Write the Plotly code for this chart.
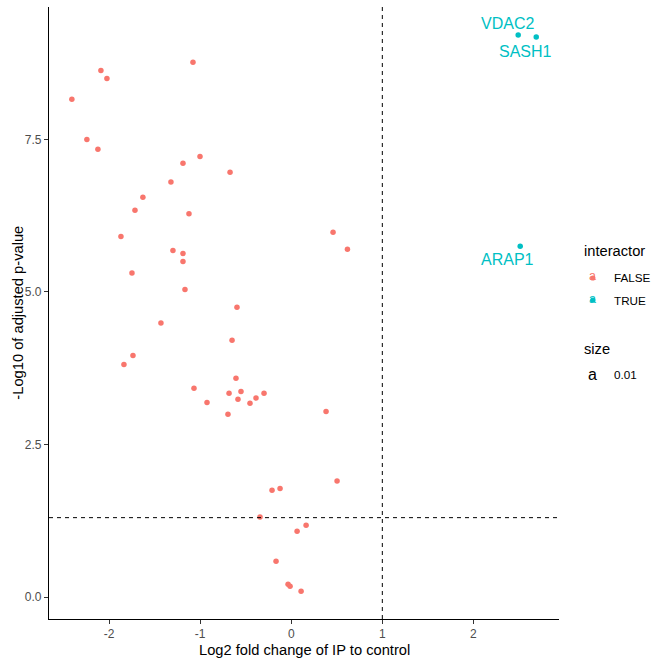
import plotly.graph_objects as go

# ---- data ----
lfc_false = [-1.079, -2.09, -2.024, -2.409, -2.244, -2.123, -1.002, -1.189, -0.672, -1.321,
             -1.629, -1.716, -1.123, -1.870, -1.299, -1.189, -1.189, -1.749, -1.167, -0.596,
             -1.431, 0.459, 0.617, -0.650, -1.738, -1.837, -0.607, -1.068, -0.683, -0.552,
             -0.585, -0.299, -0.387, -0.453, -0.925, -0.695, 0.382, -0.211, -0.123, -0.343,
             0.163, 0.064, -0.167, -0.035, -0.013, 0.108, 0.503]
nlp_false = [8.766, 8.63, 8.50, 8.16, 7.50, 7.34, 7.22, 7.11, 6.96, 6.80,
             6.55, 6.34, 6.28, 5.91, 5.68, 5.63, 5.50, 5.31, 5.04, 4.75,
             4.49, 5.98, 5.70, 4.21, 3.96, 3.81, 3.585, 3.42, 3.34, 3.37,
             3.24, 3.34, 3.26, 3.175, 3.19, 2.995, 3.04, 1.75, 1.78, 1.31,
             1.175, 1.077, 0.585, 0.208, 0.175, 0.093, 1.90]
true_genes = ["VDAC2", "SASH1", "ARAP1"]
lfc_true = [2.492, 2.69, 2.514]
nlp_true = [9.21, 9.18, 5.75]

x_ticks = [-2, -1, 0, 1, 2]
x_ticklabels = ["-2", "-1", "0", "1", "2"]
y_ticks = [0, 2.5, 5, 7.5]
y_ticklabels = ["0.0", "2.5", "5.0", "7.5"]

fc_cut = 1
p_cut = 1.30103

# ---- styling ----
RED = "#F8766D"
CYAN = "#00BFC4"
FONT = "Liberation Sans, Arial, sans-serif"
L, R, T, B = 49.3, 559.0, 7.0, 619.0
W, H = R - L, B - T


def px(x):
    return (x - L) / W


def py(y):
    return (B - y) / H


fig = go.Figure()
fig.add_trace(go.Scatter(x=lfc_false, y=nlp_false, mode="markers",
                         marker=dict(color=RED, size=5.5, line=dict(width=0)),
                         showlegend=False))
fig.add_trace(go.Scatter(x=lfc_true, y=nlp_true, mode="markers",
                         marker=dict(color=CYAN, size=5.5, line=dict(width=0)),
                         showlegend=False))

# gene labels (pixel offsets from their points)
label_shift = {"VDAC2": (-11, 12), "SASH1": (-11, -14.5), "ARAP1": (-12.5, -13.5)}
annotations = []
for g, xv, yv in zip(true_genes, lfc_true, nlp_true):
    dx, dy = label_shift[g]
    annotations.append(dict(x=xv, y=yv, xref="x", yref="y", text=g, showarrow=False,
                            xshift=dx, yshift=dy, font=dict(family=FONT, size=16, color=CYAN)))

# axis titles
annotations.append(dict(x=0.5, y=py(650), xref="paper", yref="paper",
                        text="Log2 fold change of IP to control", showarrow=False,
                        xanchor="center", yanchor="middle",
                        font=dict(family=FONT, size=14.7, color="black")))
annotations.append(dict(x=px(18), y=py(313), xref="paper", yref="paper",
                        text="-Log10 of adjusted p-value", showarrow=False, textangle=-90,
                        xanchor="center", yanchor="middle",
                        font=dict(family=FONT, size=14.7, color="black")))

# legend (manual)
def leg_text(x, y, text, size, color="black", anchor="left"):
    annotations.append(dict(x=px(x), y=py(y), xref="paper", yref="paper", text=text,
                            showarrow=False, xanchor=anchor, yanchor="middle",
                            font=dict(family=FONT, size=size, color=color)))

leg_text(581.5, 251, "interactor", 14.7)
leg_text(592.8, 276, "a", 12.5, RED, "center")
leg_text(592.8, 298.5, "a", 12.5, CYAN, "center")
leg_text(611.5, 277, "FALSE", 11.7)
leg_text(611.5, 300, "TRUE", 11.7)
leg_text(581.5, 349, "size", 14.7)
leg_text(592.5, 374, "a", 16, "black", "center")
leg_text(611.5, 374.5, "0.01", 11.7)

shapes = [
    dict(type="line", xref="x", yref="paper", x0=fc_cut, x1=fc_cut, y0=0, y1=1,
         line=dict(color="black", width=1, dash="4px,4px")),
    dict(type="line", xref="paper", yref="y", x0=0, x1=1, y0=p_cut, y1=p_cut,
         line=dict(color="black", width=1, dash="4px,4px")),
]
for cy, col in [(278, RED), (300, CYAN)]:
    r = 2.6
    shapes.append(dict(type="circle", xref="paper", yref="paper",
                       x0=px(592.8 - r), x1=px(592.8 + r), y0=py(cy + r), y1=py(cy - r),
                       fillcolor=col, line=dict(width=0)))

fig.update_layout(
    width=664, height=664,
    margin=dict(l=L, r=664 - R, t=T, b=664 - B, pad=0),
    paper_bgcolor="white", plot_bgcolor="white",
    showlegend=False,
    annotations=annotations,
    shapes=shapes,
    font=dict(family=FONT),
)
fig.update_xaxes(range=[-2.66, 2.94], tickvals=x_ticks, ticktext=x_ticklabels,
                 showgrid=False, zeroline=False, showline=True, linecolor="black", linewidth=1.1,
                 ticks="outside", ticklen=4, tickcolor="#333333", tickwidth=1,
                 tickfont=dict(family=FONT, size=12, color="#4D4D4D"))
fig.update_yaxes(range=[-0.36, 9.67], tickvals=y_ticks, ticktext=y_ticklabels,
                 showgrid=False, zeroline=False, showline=True, linecolor="black", linewidth=1.1,
                 ticks="outside", ticklen=4, tickcolor="#333333", tickwidth=1,
                 tickfont=dict(family=FONT, size=12, color="#4D4D4D"))

fig.write_html("out.html")
